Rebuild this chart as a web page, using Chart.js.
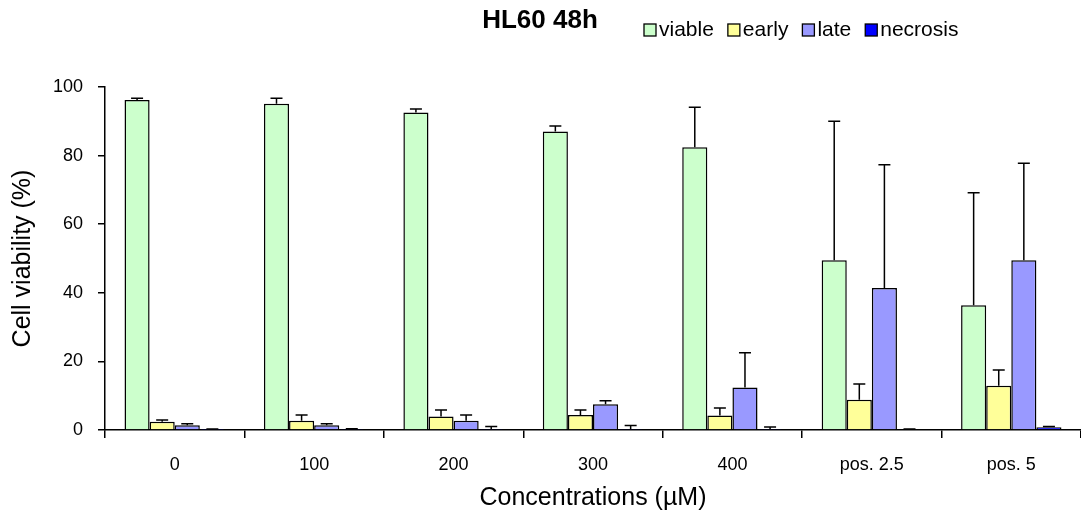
<!DOCTYPE html>
<html lang="en">
<head>
  <meta charset="UTF-8" />
  <title>HL60 48h</title>
  <script src="https://cdn.jsdelivr.net/npm/chart.js"></script>
  <style>
    body {
      margin: 0;
      background: #fff;
    }

    #wrap {
      width: 1081px;
      height: 524px;
      position: relative;
    }
  </style>
</head>
<body>
  <div id="wrap">
    <canvas id="grafico"></canvas>
  </div>

  <script>
    // dados (media e desvio para cima)
    const categorias = ['0', '100', '200', '300', '400', 'pos. 2.5', 'pos. 5'];

    const viable = [96.2, 95.1, 92.6, 87.0, 82.4, 49.5, 36.4];
    const viableErr = [0.5, 1.6, 1.0, 1.6, 11.7, 40.5, 32.8];

    const early = [2.4, 2.7, 3.9, 4.4, 4.2, 8.8, 12.9];
    const earlyErr = [0.5, 1.7, 1.9, 1.4, 2.2, 4.6, 4.6];

    const late = [1.4, 1.4, 2.7, 7.5, 12.4, 41.4, 49.5];
    const lateErr = [0.4, 0.4, 1.7, 1.0, 10.1, 35.9, 28.3];

    const necrosis = [0.1, 0.3, 0.3, 0.3, 0.3, 0.2, 0.8];
    const necrosisErr = [0.2, 0.1, 0.7, 1.0, 0.6, 0.1, 0.2];

    const yTicks = [0, 20, 40, 60, 80, 100];

    const fonte = "'Liberation Sans', Arial, sans-serif";

    function serie(nome, valores, erros, cor) {
      return {
        label: nome,
        data: valores,
        erros: erros,
        backgroundColor: cor,
        borderColor: '#000',
        borderWidth: 1.5,
        borderSkipped: 'bottom',
        categoryPercentage: 0.72,
        barPercentage: 1.0
      };
    }

    // barras de erro (so para cima, com traco no topo)
    const barrasErro = {
      id: 'barrasErro',
      afterDatasetsDraw(chart) {
        const ctx = chart.ctx;
        const y = chart.scales.y;
        ctx.save();
        ctx.strokeStyle = '#000';
        ctx.lineWidth = 1.5;
        chart.data.datasets.forEach((ds, i) => {
          const meta = chart.getDatasetMeta(i);
          meta.data.forEach((bar, j) => {
            const topo = y.getPixelForValue(ds.data[j] + ds.erros[j]);
            ctx.beginPath();
            ctx.moveTo(bar.x, bar.y);
            ctx.lineTo(bar.x, topo);
            ctx.moveTo(bar.x - 6, topo);
            ctx.lineTo(bar.x + 6, topo);
            ctx.stroke();
          });
        });
        ctx.restore();
      }
    };

    // titulo e legenda na mesma linha
    const tituloLegenda = {
      id: 'tituloLegenda',
      afterDraw(chart) {
        const ctx = chart.ctx;
        ctx.save();
        ctx.fillStyle = '#000';
        ctx.font = 'bold 26px ' + fonte;
        ctx.textAlign = 'center';
        ctx.textBaseline = 'middle';
        ctx.fillText('HL60 48h', 540, 21);

        ctx.font = '21px ' + fonte;
        ctx.textAlign = 'left';
        let x = 644;
        chart.data.datasets.forEach((ds) => {
          ctx.fillStyle = ds.backgroundColor;
          ctx.fillRect(x, 24, 12, 12);
          ctx.strokeStyle = '#000';
          ctx.lineWidth = 1.3;
          ctx.strokeRect(x, 24, 12, 12);
          ctx.fillStyle = '#000';
          ctx.fillText(ds.label, x + 15, 30);
          x += 15 + ctx.measureText(ds.label).width + 14;
        });
        ctx.restore();
      }
    };

    new Chart(document.getElementById('grafico'), {
      type: 'bar',
      data: {
        labels: categorias,
        datasets: [
          serie('viable', viable, viableErr, '#CCFFCC'),
          serie('early', early, earlyErr, '#FFFF99'),
          serie('late', late, lateErr, '#9999FF'),
          serie('necrosis', necrosis, necrosisErr, '#0000FF')
        ]
      },
      options: {
        responsive: true,
        maintainAspectRatio: false,
        animation: false,
        layout: {
          padding: { top: 87, left: 4, right: 0, bottom: 7 }
        },
        plugins: {
          legend: { display: false },
          tooltip: { enabled: false }
        },
        scales: {
          x: {
            grid: {
              offset: true,
              drawOnChartArea: false,
              tickLength: 8,
              color: '#000',
              lineWidth: 1.5
            },
            border: { color: '#000', width: 1.5 },
            ticks: {
              color: '#000',
              font: { family: fonte, size: 18 },
              padding: 16,
              maxRotation: 0
            },
            title: {
              display: true,
              text: 'Concentrations (µM)',
              color: '#000',
              font: { family: fonte, size: 25 }
            },
            afterFit(s) { s.height = 87; }
          },
          y: {
            min: 0,
            max: 100,
            afterBuildTicks(s) { s.ticks = yTicks.map(v => ({ value: v })); },
            grid: {
              drawOnChartArea: false,
              tickLength: 7,
              color: '#000',
              lineWidth: 1.5
            },
            border: { color: '#000', width: 1.5 },
            ticks: {
              color: '#000',
              font: { family: fonte, size: 18 },
              padding: 15
            },
            title: {
              display: true,
              text: 'Cell viability (%)',
              color: '#000',
              font: { family: fonte, size: 25 }
            },
            afterFit(s) { s.width = 101; }
          }
        }
      },
      plugins: [barrasErro, tituloLegenda]
    });
  </script>
</body>
</html>
